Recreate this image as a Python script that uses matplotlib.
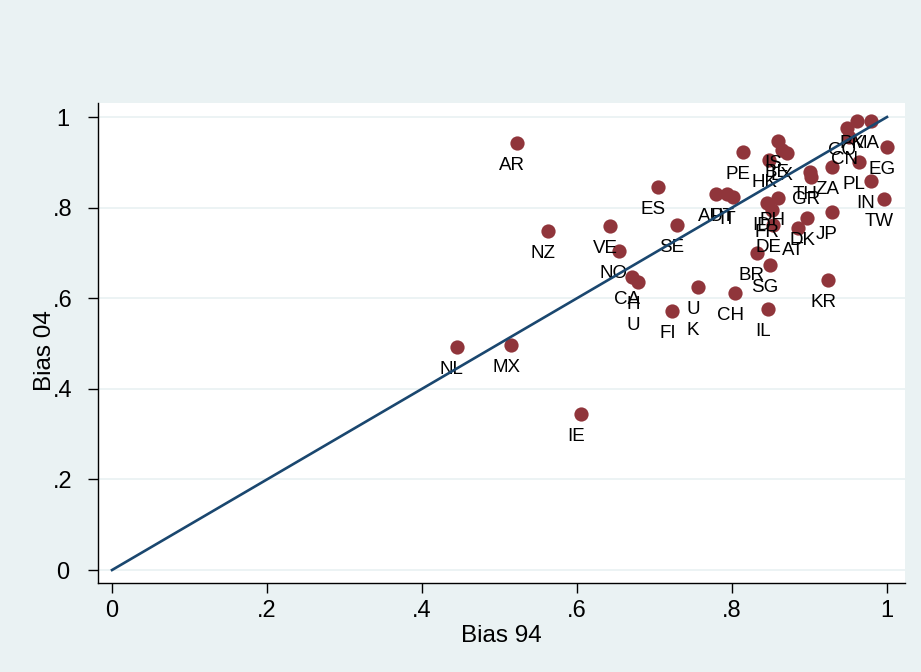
import matplotlib
matplotlib.use("Agg")
import matplotlib.pyplot as plt

plt.rcParams['font.family'] = ['Liberation Sans', 'DejaVu Sans']

# country codes and bias scores (1994 vs 2004)
countries = ['AR', 'NZ', 'NL', 'MX', 'IE', 'VE', 'NO', 'CA', 'H\nU', 'ES',
             'SE', 'FI', 'U\nK', 'CH', 'IL', 'KR', 'AU', 'PT', 'IT', 'PE',
             'IS', 'HK', 'BE', 'LX', 'TH', 'GR', 'ZA', 'PL', 'IN', 'TW',
             'EG', 'CO', 'CN', 'PK', 'MA', 'PH', 'ID', 'FR', 'DE', 'AT',
             'DK', 'JP', 'BR', 'SG']
bias94 = [0.523, 0.563, 0.445, 0.515, 0.605, 0.643, 0.654, 0.671, 0.679, 0.705,
          0.729, 0.723, 0.756, 0.804, 0.847, 0.924, 0.779, 0.794, 0.801, 0.814,
          0.859, 0.848, 0.865, 0.871, 0.901, 0.902, 0.929, 0.964, 0.979, 0.996,
          1.000, 0.948, 0.951, 0.961, 0.979, 0.859, 0.845, 0.852, 0.853, 0.885,
          0.897, 0.929, 0.832, 0.849]
bias04 = [0.943, 0.748, 0.492, 0.497, 0.344, 0.759, 0.704, 0.647, 0.636, 0.846,
          0.762, 0.572, 0.625, 0.612, 0.576, 0.640, 0.830, 0.830, 0.823, 0.923,
          0.947, 0.905, 0.927, 0.920, 0.879, 0.868, 0.890, 0.901, 0.859, 0.819,
          0.934, 0.976, 0.956, 0.991, 0.991, 0.821, 0.810, 0.795, 0.762, 0.755,
          0.777, 0.790, 0.700, 0.673]

yticks = [0, 0.2, 0.4, 0.6, 0.8, 1.0]
ytick_labels = ['0', '.2', '.4', '.6', '.8', '1']
xticks = [0, 0.2, 0.4, 0.6, 0.8, 1.0]
xtick_labels = ['0', '.2', '.4', '.6', '.8', '1']

bg = '#eaf2f3'
fig = plt.figure(figsize=(9.21, 6.72), dpi=100, facecolor=bg)
ax = fig.add_axes([0.1064, 0.1324, 0.8762, 0.7143])
ax.set_facecolor('white')

ax.scatter(bias94, bias04, s=105, color='#90353b', linewidths=0, zorder=2)
for x, y, lab in zip(bias94, bias04, countries):
    for i, line in enumerate(lab.split('\n')):
        ax.annotate(line, (x, y), xytext=(-3.6, -16.2 - 15.5 * i),
                    textcoords='offset points', ha='center', va='center',
                    fontsize=13.5, color='black', zorder=2)

# 45 degree line
ax.plot([0, 1], [0, 1], color='#1a476f', linewidth=1.9, zorder=3)

ax.set_xlim(-0.0181, 1.0232)
ax.set_ylim(-0.0287, 1.0309)
ax.set_xticks(xticks)
ax.set_xticklabels(xtick_labels)
ax.set_yticks(yticks)
ax.set_yticklabels(ytick_labels)
plt.setp(ax.get_yticklabels(), ha='center')
ax.tick_params(axis='both', labelsize=17, length=7, width=1, color='black')
ax.tick_params(axis='y', pad=18.5)
ax.tick_params(axis='x', pad=5)

ax.grid(axis='y', color=bg, linewidth=1.3, zorder=0)
ax.set_axisbelow(True)
for side in ['top', 'right']:
    ax.spines[side].set_visible(False)
for side in ['left', 'bottom']:
    ax.spines[side].set_linewidth(1.0)
    ax.spines[side].set_color('black')

ax.set_xlabel('Bias 94', fontsize=17.5, va='center')
ax.set_ylabel('Bias 04', fontsize=17.5, va='center')
ax.xaxis.set_label_coords(0.5, -0.11)
ax.yaxis.set_label_coords(-0.066, 0.485)

fig.savefig('out.png', dpi=100, facecolor=bg)
